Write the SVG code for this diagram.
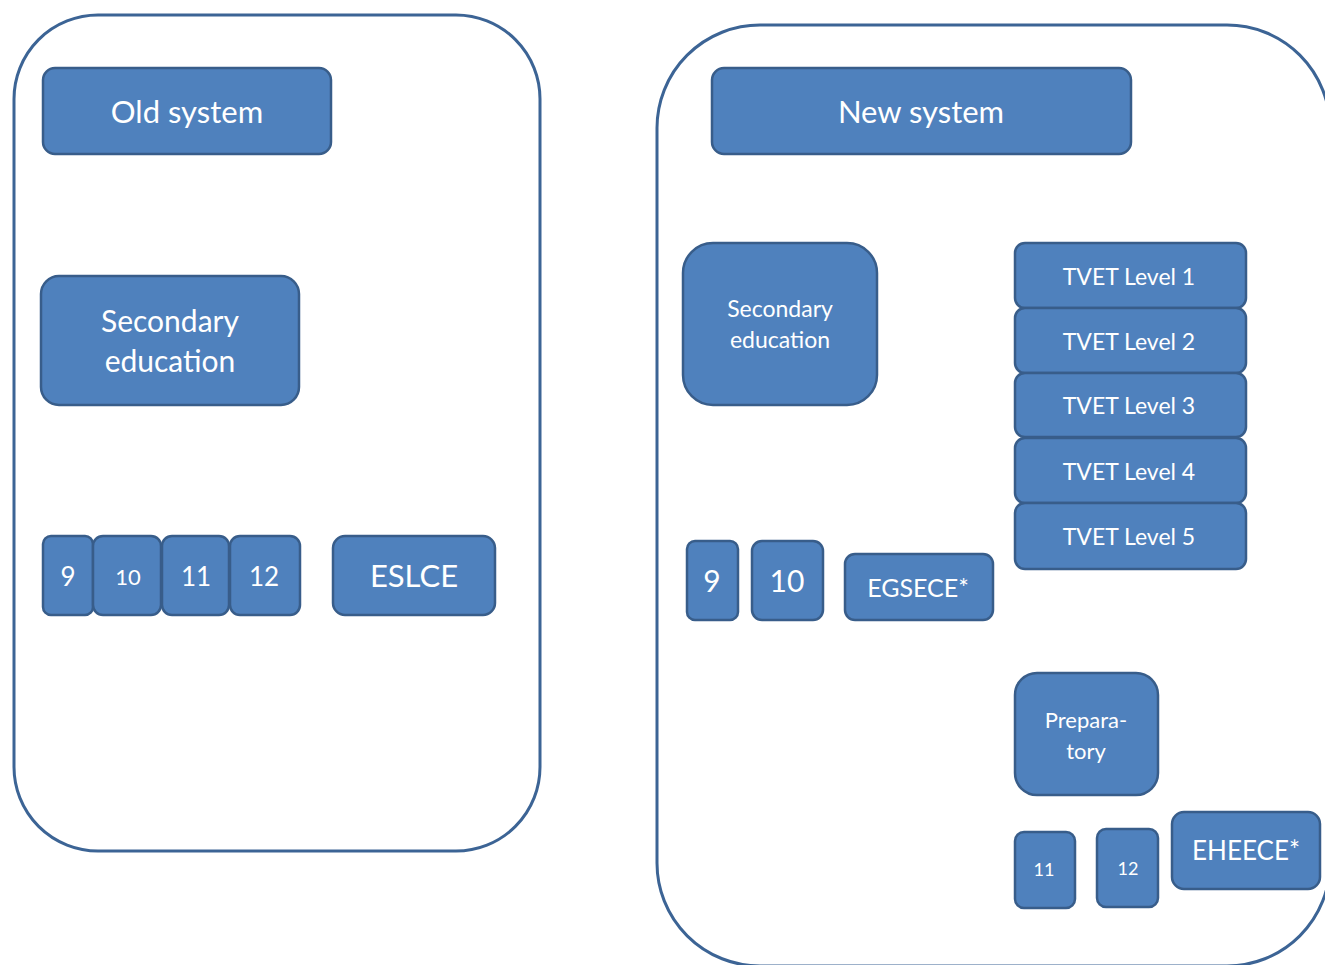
<svg xmlns="http://www.w3.org/2000/svg" width="1325" height="965" viewBox="0 0 1325 965">
<style>
.cont{fill:#ffffff;stroke:#3c6495;stroke-width:3}
.box{fill:#4f81bd;stroke:#385d8a;stroke-width:2.5}
text{fill:#ffffff;font-family:Lato,"Open Sans","Liberation Sans",sans-serif;text-anchor:middle}
</style>
<rect width="1325" height="965" fill="#ffffff"/>
<g id="old-container"><rect class="cont" x="14" y="15" width="526" height="836" rx="84" ry="84"/></g>
<g id="new-container"><rect class="cont" x="657" y="25" width="673" height="941" rx="103" ry="103"/></g>
<g id="connectors"></g>
<g id="old-system"><rect class="box" x="43" y="68" width="288" height="86" rx="12"/><text x="187" y="123" font-size="31">Old system</text></g>
<g id="old-secondary"><rect class="box" x="41" y="276" width="258" height="129" rx="18"/><text x="170" y="332" font-size="30">Secondary</text><text x="170" y="372" font-size="30">education</text></g>
<g id="old-9"><rect class="box" x="43" y="536" width="50" height="79" rx="8"/><text x="68" y="586" font-size="26">9</text></g>
<g id="old-10"><rect class="box" x="93" y="536" width="68" height="79" rx="10"/><text x="128" y="585" font-size="22">10</text></g>
<g id="old-11"><rect class="box" x="162" y="536" width="67" height="79" rx="10"/><text x="196" y="586" font-size="26">11</text></g>
<g id="old-12"><rect class="box" x="230" y="536" width="70" height="79" rx="10"/><text x="264" y="586" font-size="26">12</text></g>
<g id="eslce"><rect class="box" x="333" y="536" width="162" height="79" rx="12"/><text x="414" y="587" font-size="31">ESLCE</text></g>
<g id="new-system"><rect class="box" x="712" y="68" width="419" height="86" rx="12"/><text x="921" y="123" font-size="31">New system</text></g>
<g id="new-secondary"><rect class="box" x="683" y="243" width="194" height="162" rx="30"/><text x="780" y="317" font-size="23">Secondary</text><text x="780" y="348" font-size="23">education</text></g>
<g id="tvet-1"><rect class="box" x="1015" y="243" width="231" height="65" rx="10"/><text x="1129" y="285" font-size="23">TVET Level 1</text></g>
<g id="tvet-2"><rect class="box" x="1015" y="308" width="231" height="65" rx="10"/><text x="1129" y="350" font-size="23">TVET Level 2</text></g>
<g id="tvet-3"><rect class="box" x="1015" y="373" width="231" height="64" rx="10"/><text x="1129" y="414" font-size="23">TVET Level 3</text></g>
<g id="tvet-4"><rect class="box" x="1015" y="438" width="231" height="65" rx="10"/><text x="1129" y="480" font-size="23">TVET Level 4</text></g>
<g id="tvet-5"><rect class="box" x="1015" y="503" width="231" height="66" rx="10"/><text x="1129" y="545" font-size="23">TVET Level 5</text></g>
<g id="new-9"><rect class="box" x="687" y="541" width="51" height="79" rx="8"/><text x="712" y="592" font-size="30">9</text></g>
<g id="new-10"><rect class="box" x="752" y="541" width="71" height="79" rx="10"/><text x="787" y="592" font-size="30">10</text></g>
<g id="egsece"><rect class="box" x="845" y="554" width="148" height="66" rx="10"/><text x="918" y="597" font-size="25">EGSECE*</text></g>
<g id="preparatory"><rect class="box" x="1015" y="673" width="143" height="122" rx="22"/><text x="1086" y="728" font-size="22">Prepara-</text><text x="1086" y="759" font-size="22">tory</text></g>
<g id="new-11"><rect class="box" x="1015" y="832" width="60" height="76" rx="9"/><text x="1044" y="876" font-size="18">11</text></g>
<g id="new-12"><rect class="box" x="1097" y="829" width="61" height="78" rx="9"/><text x="1128" y="875" font-size="18">12</text></g>
<g id="eheece"><rect class="box" x="1172" y="812" width="148" height="77" rx="12"/><text x="1246" y="860" font-size="26">EHEECE*</text></g>
</svg>
